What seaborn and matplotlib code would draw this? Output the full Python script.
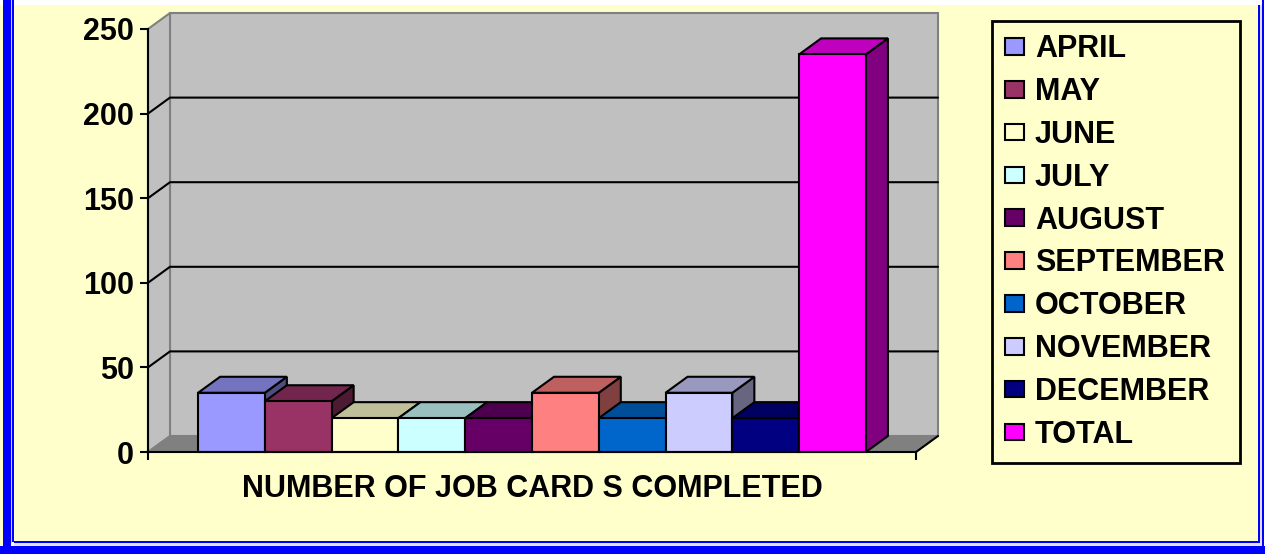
import matplotlib
matplotlib.use("Agg")
import matplotlib.pyplot as plt
from matplotlib.patches import Polygon, Rectangle
import seaborn as sns
import pandas as pd
import numpy as np

# data
months = ["APRIL", "MAY", "JUNE", "JULY", "AUGUST", "SEPTEMBER",
          "OCTOBER", "NOVEMBER", "DECEMBER", "TOTAL"]
job_cards = [35, 30, 20, 20, 20, 35, 20, 35, 20, 235]
category = "NUMBER OF JOB CARD S COMPLETED"
y_ticks = [0, 50, 100, 150, 200, 250]

# excel 97 style fills
front_colors = ["#9999FF", "#993366", "#FFFFCC", "#CCFFFF", "#660066",
                "#FF8080", "#0066CC", "#CCCCFF", "#000080", "#FF00FF"]

BG = "#FFFFCC"
W, H, DPI = 1265, 554, 100
FS = 22

sns.set_style("white")
plt.rcParams["font.family"] = ["Liberation Sans", "DejaVu Sans"]
plt.rcParams["font.weight"] = "bold"
plt.rcParams["text.color"] = "black"
plt.rcParams["xtick.color"] = "black"
plt.rcParams["ytick.color"] = "black"
plt.rcParams["axes.labelcolor"] = "black"

fig = plt.figure(figsize=(W / DPI, H / DPI), dpi=DPI, facecolor=BG)

# axes placed in pixel units of the figure
ax_l, ax_r, ax_b, ax_t = 148, 916, 452, 29
ax = fig.add_axes([ax_l / W, (H - ax_b) / H, (ax_r - ax_l) / W, (ax_b - ax_t) / H])
ax.set_facecolor("none")

df = pd.DataFrame({"group": [category] * len(months), "month": months, "value": job_cards})
sns.barplot(data=df, x="group", y="value", hue="month", hue_order=months,
            palette=front_colors, width=0.8, edgecolor="black", linewidth=1.5,
            saturation=1, ax=ax, legend=False)

x0, x1 = -0.46, 0.46
ax.set_xlim(x0, x1)
ax.set_ylim(0, 250)

# depth offset of the 3-D look, pixels -> data units
px_x = (ax_r - ax_l) / (x1 - x0)
px_y = (ax_b - ax_t) / 250
ddx, ddy = 22 / px_x, 16 / px_y


def shade(c, f):
    r, g, b = matplotlib.colors.to_rgb(c)
    return (r * f, g * f, b * f)


# back wall, side wall, floor
ax.add_patch(Rectangle((x0 + ddx, ddy), x1 - x0, 250, facecolor="#C0C0C0",
                       edgecolor="#808080", lw=1.5, zorder=0.2, clip_on=False))
ax.add_patch(Polygon([(x0, 0), (x0, 250), (x0 + ddx, 250 + ddy), (x0 + ddx, ddy)],
                     closed=True, facecolor="#C0C0C0", edgecolor="#808080",
                     lw=1.5, zorder=0.3, clip_on=False))
ax.add_patch(Polygon([(x0, 0), (x1, 0), (x1 + ddx, ddy), (x0 + ddx, ddy)],
                     closed=True, facecolor="#808080", edgecolor="#808080",
                     lw=1, zorder=0.4, clip_on=False))
ax.plot([x1, x1 + ddx], [0, ddy], color="black", lw=1.5, zorder=0.45, clip_on=False)
for t in y_ticks[1:-1]:
    ax.plot([x0, x0 + ddx, x1 + ddx], [t, t + ddy, t + ddy], color="black",
            lw=1.5, zorder=0.5, clip_on=False)

# 3-D top and side of each bar
z = 2
for cont, col in zip(ax.containers, front_colors):
    for bar in cont:
        bx, bw, bh = bar.get_x(), bar.get_width(), bar.get_height()
        side = Polygon([(bx + bw, 0), (bx + bw, bh), (bx + bw + ddx, bh + ddy),
                        (bx + bw + ddx, ddy)], closed=True, facecolor=shade(col, 0.5),
                       edgecolor="black", lw=1.5, zorder=z, clip_on=False)
        top = Polygon([(bx, bh), (bx + bw, bh), (bx + bw + ddx, bh + ddy),
                       (bx + ddx, bh + ddy)], closed=True, facecolor=shade(col, 0.75),
                      edgecolor="black", lw=1.5, zorder=z + 0.1, clip_on=False)
        ax.add_patch(side)
        ax.add_patch(top)
        bar.set_zorder(z + 0.2)
        bar.set_clip_on(False)
        z += 1

for s in ["top", "right"]:
    ax.spines[s].set_visible(False)
for s in ["left", "bottom"]:
    ax.spines[s].set_color("black")
    ax.spines[s].set_linewidth(1.5)
    ax.spines[s].set_zorder(z + 1)

ax.set_yticks(y_ticks)
ax.set_yticklabels([str(t) for t in y_ticks], fontsize=FS, fontweight="bold", color="black")
ax.tick_params(axis="y", direction="out", length=6, width=1.5, pad=4, left=True, colors="black")
ax.set_xticks([0])
ax.set_xticklabels([category], fontsize=FS, fontweight="bold", color="black")
ax.tick_params(axis="x", length=0, pad=16)
ax.set_xticks([x0, x1], minor=True)
ax.tick_params(axis="x", which="minor", direction="out", length=6, width=1.5,
               bottom=True, colors="black")
ax.set_xlabel("")
ax.set_ylabel("")
ax.grid(False)

# legend
handles = [Rectangle((0, 0), 1, 1, facecolor=c, edgecolor="black", lw=1.5) for c in front_colors]
leg = fig.legend(handles, months, loc="upper left",
                 bbox_to_anchor=(992 / W, (H - 22) / H, (1240 - 992) / W, 0.001),
                 mode="expand", borderaxespad=0, prop={"weight": "bold", "size": FS},
                 handlelength=0.62, handleheight=0.46, handletextpad=0.36,
                 labelspacing=0.42, borderpad=0.42, fancybox=False, frameon=True)
leg.get_frame().set_facecolor(BG)
leg.get_frame().set_edgecolor("black")
leg.get_frame().set_linewidth(2)
leg.get_frame().set_alpha(1)
for txt in leg.get_texts():
    txt.set_color("black")

# window-like blue border
def fig_rect(x, y, w, h, c):
    fig.patches.append(Rectangle((x / W, 1 - (y + h) / H), w / W, h / H,
                                 transform=fig.transFigure, facecolor=c,
                                 edgecolor="none", zorder=10))

fig_rect(0, 0, W, 5, "white")
fig_rect(3, 0, 8, H, "#0000FF")
fig_rect(11, 0, 1, H - 11, "#C8C8FF")
fig_rect(12, 0, 2, H - 12, "#0000FF")
fig_rect(0, 546, W, 8, "#0000FF")
fig_rect(14, 543, W - 14, 3, "#E0E0F0")
fig_rect(14, 541, 1244, 2, "#0000FF")
fig_rect(1258, 5, 2, 538, "#0000FF")
fig_rect(1260, 5, 2, 541, "#E0E0F0")
fig_rect(1262, 0, 2, 546, "#0000FF")
fig_rect(1264, 0, 1, 546, "white")

fig.savefig("out.png", dpi=DPI, facecolor=BG)
